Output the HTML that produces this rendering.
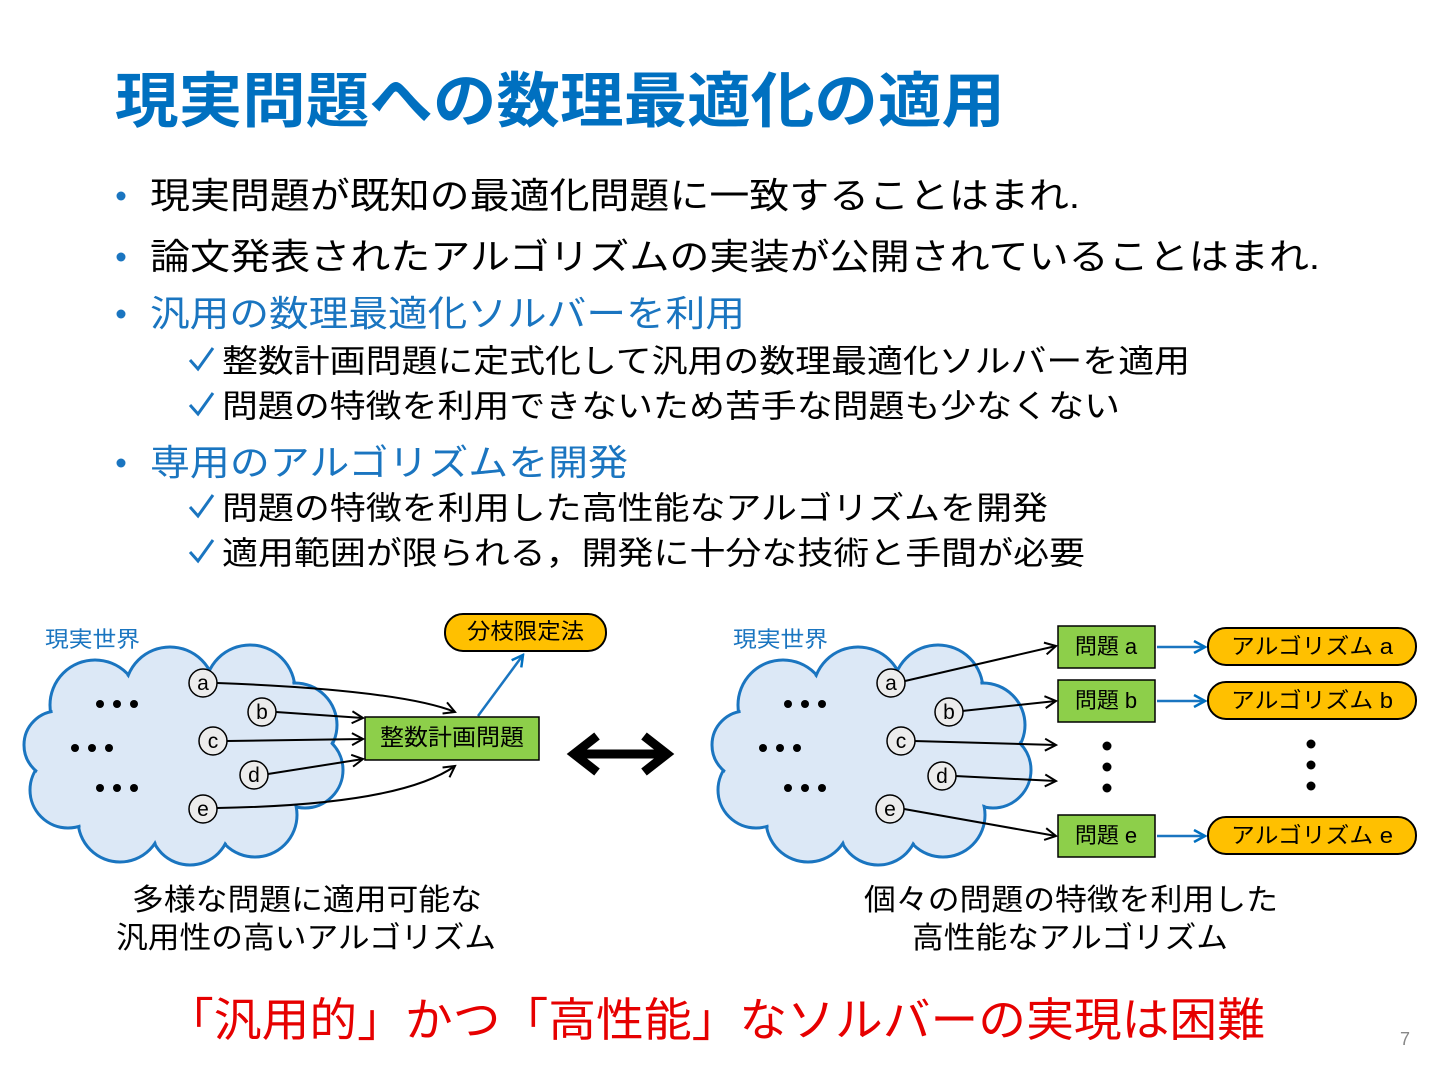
<!DOCTYPE html>
<html><head><meta charset="utf-8"><style>
body{margin:0;background:#fff;}
svg text{font-family:"Liberation Sans","Noto Sans CJK JP",sans-serif;}
</style></head><body>
<svg width="1440" height="1080" viewBox="0 0 1440 1080" xmlns="http://www.w3.org/2000/svg">
<defs>
<marker id="ah" markerWidth="14" markerHeight="14" refX="12" refY="7" orient="auto" markerUnits="userSpaceOnUse"><path d="M1,1 L12,7 L1,13" fill="none" stroke="#000" stroke-width="2"/></marker>
<marker id="bh" markerWidth="14" markerHeight="14" refX="12" refY="7" orient="auto" markerUnits="userSpaceOnUse"><path d="M1,1 L12,7 L1,13" fill="none" stroke="#0070c0" stroke-width="2.5"/></marker>
<g id="cloud">
<g fill="#dce8f6" stroke="#1a75c0" stroke-width="3">
<circle cx="95" cy="705" r="45"/><circle cx="170" cy="692" r="45"/><circle cx="250" cy="690" r="45"/>
<circle cx="295" cy="725" r="42"/><circle cx="305" cy="770" r="38"/><circle cx="255" cy="815" r="42"/>
<circle cx="190" cy="825" r="40"/><circle cx="120" cy="820" r="42"/><circle cx="68" cy="790" r="38"/>
<circle cx="58" cy="745" r="34"/>
</g>
<g fill="#dce8f6">
<circle cx="95" cy="705" r="43"/><circle cx="170" cy="692" r="43"/><circle cx="250" cy="690" r="43"/>
<circle cx="295" cy="725" r="40"/><circle cx="305" cy="770" r="36"/><circle cx="255" cy="815" r="40"/>
<circle cx="190" cy="825" r="38"/><circle cx="120" cy="820" r="40"/><circle cx="68" cy="790" r="36"/>
<circle cx="58" cy="745" r="32"/><ellipse cx="180" cy="760" rx="120" ry="75"/>
</g>
<g fill="#000"><circle cx="100" cy="704" r="4"/><circle cx="117" cy="704" r="4"/><circle cx="134" cy="704" r="4"/>
<circle cx="75" cy="748" r="4"/><circle cx="92" cy="748" r="4"/><circle cx="109" cy="748" r="4"/>
<circle cx="100" cy="788" r="4"/><circle cx="117" cy="788" r="4"/><circle cx="134" cy="788" r="4"/></g>
</g>
</defs>

<text x="115" y="122" font-size="60" font-weight="bold" fill="#0070c0" textLength="890" lengthAdjust="spacingAndGlyphs">現実問題への数理最適化の適用</text>

<g font-size="36" fill="#000">
<circle cx="121" cy="196" r="4.5" fill="#1a75c0"/><text x="150" y="208" textLength="930" lengthAdjust="spacingAndGlyphs">現実問題が既知の最適化問題に一致することはまれ.</text>
<circle cx="121" cy="257" r="4.5" fill="#1a75c0"/><text x="150" y="269" textLength="1170" lengthAdjust="spacingAndGlyphs">論文発表されたアルゴリズムの実装が公開されていることはまれ.</text>
<circle cx="121" cy="314" r="4.5" fill="#1a75c0"/><text x="150" y="326" fill="#1a75c0" textLength="595" lengthAdjust="spacingAndGlyphs">汎用の数理最適化ソルバーを利用</text>
<circle cx="121" cy="463" r="4.5" fill="#1a75c0"/><text x="150" y="475" fill="#1a75c0" textLength="478" lengthAdjust="spacingAndGlyphs">専用のアルゴリズムを開発</text>
</g>
<g fill="none" stroke="#1a75c0" stroke-width="3">
<path d="M190,360 L198,369 L213,348"/><path d="M190,405 L198,414 L213,393"/>
<path d="M190,507 L198,516 L213,495"/><path d="M190,552 L198,561 L213,540"/>
</g>
<g font-size="32" fill="#000">
<text x="222" y="372" textLength="968" lengthAdjust="spacingAndGlyphs">整数計画問題に定式化して汎用の数理最適化ソルバーを適用</text>
<text x="222" y="417" textLength="898" lengthAdjust="spacingAndGlyphs">問題の特徴を利用できないため苦手な問題も少なくない</text>
<text x="222" y="519" textLength="826" lengthAdjust="spacingAndGlyphs">問題の特徴を利用した高性能なアルゴリズムを開発</text>
<text x="222" y="564" textLength="863" lengthAdjust="spacingAndGlyphs">適用範囲が限られる，開発に十分な技術と手間が必要</text>
</g>

<text x="45" y="647" font-size="22" fill="#1a75c0" textLength="95" lengthAdjust="spacingAndGlyphs">現実世界</text>
<use href="#cloud"/>
<g fill="none" stroke="#000" stroke-width="2">
<path d="M217,683 Q400,690 455,712" marker-end="url(#ah)"/>
<path d="M276,712 L363,718" marker-end="url(#ah)"/>
<path d="M227,741 L363,739" marker-end="url(#ah)"/>
<path d="M268,774 L363,759" marker-end="url(#ah)"/>
<path d="M217,808 Q400,805 455,766" marker-end="url(#ah)"/>
</g>
<line x1="478" y1="716" x2="523" y2="655" stroke="#1a75c0" stroke-width="2.5" marker-end="url(#bh)"/>
<g fill="#ececec" stroke="#000" stroke-width="1.5">
<circle cx="203" cy="683" r="14"/><circle cx="262" cy="712" r="14"/><circle cx="213" cy="741" r="14"/>
<circle cx="254" cy="775" r="14"/><circle cx="203" cy="809" r="14"/></g>
<g font-size="21" text-anchor="middle"><text x="203" y="690">a</text><text x="262" y="719">b</text><text x="213" y="748">c</text><text x="254" y="782">d</text><text x="203" y="816">e</text></g>
<rect x="365" y="717" width="174" height="43" fill="#8dcf4a" stroke="#000" stroke-width="1.5"/>
<text x="380" y="745" font-size="23" textLength="144" lengthAdjust="spacingAndGlyphs">整数計画問題</text>
<rect x="445" y="614" width="161" height="37" rx="18" fill="#ffc000" stroke="#000" stroke-width="2"/>
<text x="467" y="639" font-size="22" textLength="117" lengthAdjust="spacingAndGlyphs">分枝限定法</text>

<g stroke="#000" stroke-width="9" fill="none">
<line x1="575" y1="754" x2="665" y2="754"/>
<path d="M597,736 L574,754 L597,772"/><path d="M644,736 L667,754 L644,772"/>
</g>

<text x="733" y="647" font-size="22" fill="#1a75c0" textLength="95" lengthAdjust="spacingAndGlyphs">現実世界</text>
<use href="#cloud" transform="translate(688,0)"/>
<g fill="none" stroke="#000" stroke-width="2">
<line x1="905" y1="681" x2="1056" y2="646" marker-end="url(#ah)"/>
<line x1="962" y1="711" x2="1056" y2="701" marker-end="url(#ah)"/>
<line x1="914" y1="741" x2="1056" y2="745" marker-end="url(#ah)"/>
<line x1="955" y1="776" x2="1056" y2="781" marker-end="url(#ah)"/>
<line x1="904" y1="809" x2="1056" y2="836" marker-end="url(#ah)"/>
</g>
<g fill="#ececec" stroke="#000" stroke-width="1.5">
<circle cx="891" cy="683" r="14"/><circle cx="949" cy="712" r="14"/><circle cx="901" cy="741" r="14"/>
<circle cx="942" cy="776" r="14"/><circle cx="890" cy="809" r="14"/></g>
<g font-size="21" text-anchor="middle"><text x="891" y="690">a</text><text x="949" y="719">b</text><text x="901" y="748">c</text><text x="942" y="783">d</text><text x="890" y="816">e</text></g>
<g fill="#8dcf4a" stroke="#000" stroke-width="1.5">
<rect x="1058" y="626" width="97" height="42"/><rect x="1058" y="680" width="97" height="42"/><rect x="1058" y="815" width="97" height="42"/></g>
<g font-size="22" text-anchor="middle"><text x="1106" y="654">問題 a</text><text x="1106" y="708">問題 b</text><text x="1106" y="843">問題 e</text></g>
<g stroke="#1a75c0" stroke-width="2.5">
<line x1="1157" y1="647" x2="1205" y2="647" marker-end="url(#bh)"/>
<line x1="1157" y1="701" x2="1205" y2="701" marker-end="url(#bh)"/>
<line x1="1157" y1="836" x2="1205" y2="836" marker-end="url(#bh)"/></g>
<g fill="#ffc000" stroke="#000" stroke-width="2">
<rect x="1208" y="628" width="208" height="37" rx="18"/><rect x="1208" y="682" width="208" height="37" rx="18"/><rect x="1208" y="817" width="208" height="37" rx="18"/></g>
<g font-size="22"><text x="1231" y="654" textLength="162" lengthAdjust="spacingAndGlyphs">アルゴリズム a</text><text x="1231" y="708" textLength="162" lengthAdjust="spacingAndGlyphs">アルゴリズム b</text><text x="1231" y="843" textLength="162" lengthAdjust="spacingAndGlyphs">アルゴリズム e</text></g>
<g fill="#000"><circle cx="1107" cy="746" r="4.5"/><circle cx="1107" cy="767" r="4.5"/><circle cx="1107" cy="788" r="4.5"/>
<circle cx="1311" cy="744" r="4.5"/><circle cx="1311" cy="765" r="4.5"/><circle cx="1311" cy="786" r="4.5"/></g>

<g font-size="30" fill="#000">
<text x="132" y="910" textLength="350" lengthAdjust="spacingAndGlyphs">多様な問題に適用可能な</text><text x="116" y="948" textLength="380" lengthAdjust="spacingAndGlyphs">汎用性の高いアルゴリズム</text>
<text x="864" y="910" textLength="414" lengthAdjust="spacingAndGlyphs">個々の問題の特徴を利用した</text><text x="912" y="948" textLength="316" lengthAdjust="spacingAndGlyphs">高性能なアルゴリズム</text>
</g>
<text x="166" y="1036" font-size="46" fill="#e60000" textLength="1099" lengthAdjust="spacingAndGlyphs">「汎用的」かつ「高性能」なソルバーの実現は困難</text>
<text x="1400" y="1045" font-size="18" fill="#888">7</text>
</svg>
</body></html>
